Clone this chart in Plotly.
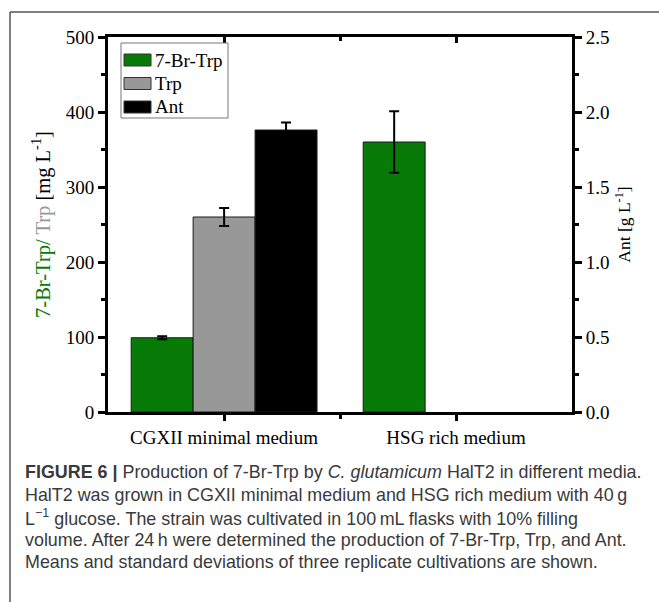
import plotly.graph_objects as go

categories = ["CGXII minimal medium", "HSG rich medium"]
x_pos = [1, 2]
series_names = ["7-Br-Trp", "Trp", "Ant"]
br_trp = [99, 360]          # mg/L
br_trp_err = [2, 41]
trp = [260, None]           # mg/L
trp_err = [12, None]
ant = [1.88, None]          # g/L
ant_err = [0.05, None]

GREEN = "#077A07"
GREY = "#989898"
BLACK = "#000000"
colors = [GREEN, GREY, BLACK]
SERIF = "Liberation Serif"
SANS = "Liberation Sans"

W, H = 659, 602
L, R, T, B = 108, 87, 37, 190
PW, PH = W - L - R, H - T - B

def px(x):
    return (x - L) / PW

def py(y):
    return (H - B - y) / PH

bw = 0.267
fig = go.Figure()
eb = dict(type="data", color="black", thickness=2, width=5)
line_style = dict(color="#1a1a1a", width=1)
fig.add_trace(go.Bar(x=x_pos, y=br_trp, name=series_names[0], width=[bw] * 2, offset=[-0.4] * 2,
                     marker=dict(color=GREEN, line=line_style),
                     error_y=dict(array=br_trp_err, **eb), xaxis="x", yaxis="y"))
fig.add_trace(go.Bar(x=x_pos, y=trp, name=series_names[1], width=[bw] * 2, offset=[-0.4 + bw] * 2,
                     marker=dict(color=GREY, line=line_style),
                     error_y=dict(array=trp_err, **eb), xaxis="x", yaxis="y"))
fig.add_trace(go.Bar(x=x_pos, y=ant, name=series_names[2], width=[bw] * 2, offset=[-0.4 + 2 * bw] * 2,
                     marker=dict(color=BLACK, line=line_style),
                     error_y=dict(array=ant_err, **eb), xaxis="x", yaxis="y2"))
fig.add_trace(go.Scatter(x=[1.5], y=[0], mode="markers", marker=dict(opacity=0),
                         showlegend=False, hoverinfo="skip", xaxis="x2", yaxis="y"))

tickfont = dict(family=SERIF, size=19, color="black")
axline = dict(showline=True, linecolor="black", linewidth=3, tickcolor="black",
              tickwidth=2.5, showgrid=False, zeroline=False, tickfont=tickfont)
minor_out = dict(ticks="outside", ticklen=4, tickwidth=2.5, tickcolor="black")
minor_in = dict(ticks="inside", ticklen=4, tickwidth=2.5, tickcolor="black")

fig.update_layout(
    width=W, height=H, margin=dict(l=L, r=R, t=T, b=B),
    paper_bgcolor="white", plot_bgcolor="white",
    barmode="overlay", showlegend=False,
    xaxis=dict(range=[0.5, 2.5], tickmode="array", tickvals=x_pos, ticktext=categories,
               ticks="outside", ticklen=6, minor=dict(tickvals=[1.5], **minor_out), **axline),
    xaxis2=dict(range=[0.5, 2.5], overlaying="x", side="top", tickmode="array", tickvals=x_pos,
                showticklabels=False, ticks="inside", ticklen=6,
                minor=dict(tickvals=[1.5], **minor_in), **axline),
    yaxis=dict(range=[0, 500], dtick=100, ticks="outside", ticklen=7,
               minor=dict(dtick=50, **minor_out),
               title=dict(text=f"<span style='color:{GREEN}'>7-Br-Trp/</span>"
                               f"<span style='color:{GREY}'> Trp</span> [mg L<sup>-1</sup>]",
                          font=dict(family=SERIF, size=20.5, color="black"), standoff=10),
               **axline),
    yaxis2=dict(range=[0, 2.5], dtick=0.5, tickformat=".1f", overlaying="y", side="right",
                ticks="outside", ticklen=7, minor=dict(dtick=0.25, **minor_out),
                title=dict(text="Ant [g L<sup>-1</sup>]",
                           font=dict(family=SERIF, size=17.5, color="black"), standoff=10),
                **axline),
)

# manual legend (box, patches, labels)
fig.add_shape(type="rect", xref="paper", yref="paper", x0=px(121), x1=px(228), y0=py(43), y1=py(118),
              line=dict(color="#777", width=1), fillcolor="white", layer="above")
for i, (name, col) in enumerate(zip(series_names, colors)):
    yc = 60 + 23.5 * i
    fig.add_shape(type="rect", xref="paper", yref="paper", x0=px(124), x1=px(151),
                  y0=py(yc - 6), y1=py(yc + 6), line=dict(color="#333", width=1),
                  fillcolor=col, layer="above")
    fig.add_annotation(text=name, xref="paper", yref="paper", x=px(153), y=py(yc),
                       xanchor="left", yanchor="middle", showarrow=False,
                       font=dict(family=SERIF, size=19, color="black"))

# frame lines
fig.add_shape(type="line", xref="paper", yref="paper", x0=px(10), x1=px(659), y0=py(12), y1=py(12),
              line=dict(color="#555", width=1.5))
fig.add_shape(type="line", xref="paper", yref="paper", x0=px(10), x1=px(10), y0=py(12), y1=py(602),
              line=dict(color="#555", width=1.5))

caption = [
    "<b>FIGURE 6 |</b> Production of 7-Br-Trp by <i>C. glutamicum</i> HalT2 in different media.",
    "HalT2 was grown in CGXII minimal medium and HSG rich medium with 40\u2009g",
    "L<sup>\u22121</sup> glucose. The strain was cultivated in 100\u2009mL flasks with 10% filling",
    "volume. After 24\u2009h were determined the production of 7-Br-Trp, Trp, and Ant.",
    "Means and standard deviations of three replicate cultivations are shown.",
]
for i, line in enumerate(caption):
    fig.add_annotation(text=line, xref="paper", yref="paper", x=px(23), y=py(472 + 22.5 * i),
                       xanchor="left", yanchor="middle", showarrow=False, align="left",
                       font=dict(family=SANS, size=17.9, color="#3a3a3a"))

fig.write_html("out.html", config={"displayModeBar": False},
               post_script="document.body.style.margin='0';")
